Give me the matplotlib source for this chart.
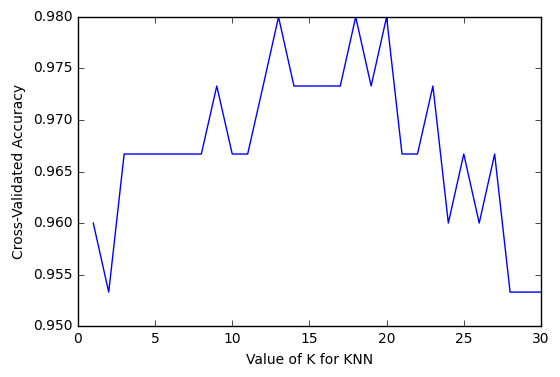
import matplotlib
matplotlib.use("Agg")
import matplotlib.pyplot as plt

k_range = list(range(1, 31))
k_scores = [0.9600, 0.9533, 0.9667, 0.9667, 0.9667, 0.9667, 0.9667, 0.9667,
            0.9733, 0.9667, 0.9667, 0.9733, 0.9800, 0.9733, 0.9733, 0.9733,
            0.9733, 0.9800, 0.9733, 0.9800, 0.9667, 0.9667, 0.9733, 0.9600,
            0.9667, 0.9600, 0.9667, 0.9533, 0.9533, 0.9533]

plt.style.use('classic')
plt.rcParams['font.size'] = 10

fig = plt.figure(figsize=(5.6, 3.77), dpi=100, facecolor='white')
ax = fig.add_axes([0.139, 0.135, 0.827, 0.82])
ax.plot(k_range, k_scores, color='blue', linewidth=1)
ax.set_xlim(0, 30)
ax.set_ylim(0.950, 0.980)
ax.set_yticks([0.950, 0.955, 0.960, 0.965, 0.970, 0.975, 0.980])
ax.set_yticklabels(['0.950', '0.955', '0.960', '0.965', '0.970', '0.975', '0.980'])
ax.set_xlabel('Value of K for KNN')
ax.set_ylabel('Cross-Validated Accuracy')
fig.savefig('out.png', dpi=100, facecolor='white')
